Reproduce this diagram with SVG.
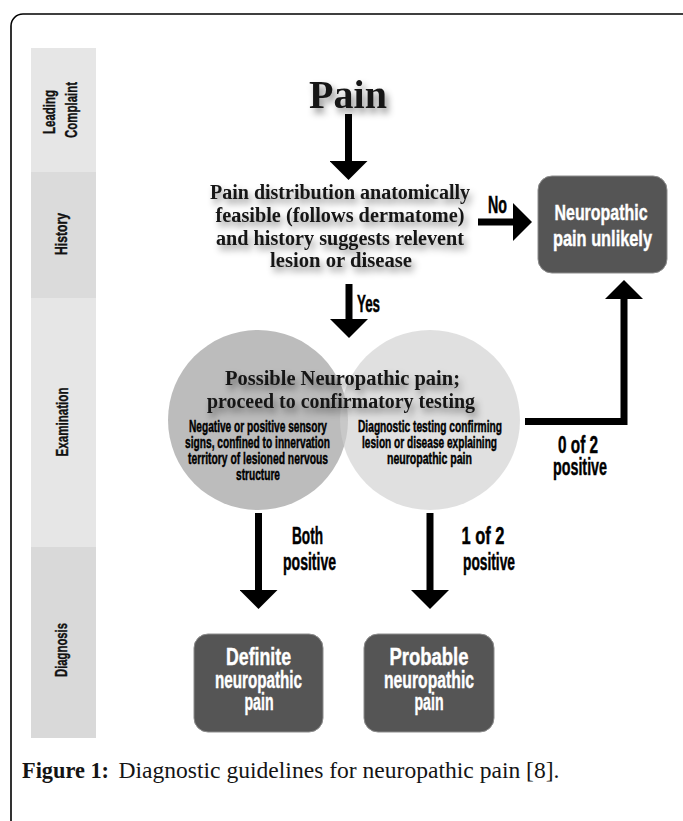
<svg xmlns="http://www.w3.org/2000/svg" width="683" height="821" viewBox="0 0 683 821">
<style>
.serif{font-family:"Liberation Serif","Times New Roman",serif;font-weight:bold;fill:#141414}
.cap{font-family:"Liberation Serif","Times New Roman",serif;fill:#141414}
.cond{font-family:"Liberation Sans Narrow","Liberation Sans",Arial,sans-serif;font-weight:bold;fill:#000;stroke:#000;stroke-width:0.45}
.wt{fill:#fff;stroke:#fff;stroke-width:0.4}
.box{fill:#555555;stroke:#8c8c8c;stroke-width:1}
.conn{stroke:#000;stroke-width:7;fill:none;marker-end:url(#ah)}
.side{font-family:"Liberation Sans Narrow","Liberation Sans",Arial,sans-serif;font-weight:bold;fill:#111;stroke:#111;stroke-width:0.4;font-size:17px}
</style>
<defs>
<marker id="ah" markerUnits="userSpaceOnUse" markerWidth="20" markerHeight="38" viewBox="0 0 20 38" refX="1" refY="19" orient="auto">
<path d="M0,0 L19,19 L0,38 Z" fill="#000"/>
</marker>
<filter id="sh" x="-20%" y="-40%" width="140%" height="190%">
<feDropShadow dx="3" dy="5" stdDeviation="3.5" flood-color="#000" flood-opacity="0.45"/>
</filter>
</defs>
<rect width="683" height="821" fill="#fff"/>
<path d="M11,821 V26 A12,12 0 0 1 23,14 H690" fill="none" stroke="#000" stroke-width="1.6"/>

<g id="sidebar">
<rect x="31" y="48" width="65" height="124" fill="#e6e6e6"/>
<rect x="31" y="172" width="65" height="126" fill="#dbdbdb"/>
<rect x="31" y="298" width="65" height="249" fill="#e6e6e6"/>
<rect x="31" y="547" width="65" height="191" fill="#d9d9d9"/>
<text class="side" x="55" y="112" text-anchor="middle" textLength="44" lengthAdjust="spacingAndGlyphs" transform="rotate(-90 55 112)">Leading</text>
<text class="side" x="77" y="110" text-anchor="middle" textLength="56" lengthAdjust="spacingAndGlyphs" transform="rotate(-90 77 110)">Complaint</text>
<text class="side" x="67" y="234" text-anchor="middle" textLength="42" lengthAdjust="spacingAndGlyphs" transform="rotate(-90 67 234)">History</text>
<text class="side" x="68" y="422" text-anchor="middle" textLength="69" lengthAdjust="spacingAndGlyphs" transform="rotate(-90 68 422)">Examination</text>
<text class="side" x="67" y="650" text-anchor="middle" textLength="54" lengthAdjust="spacingAndGlyphs" transform="rotate(-90 67 650)">Diagnosis</text>
</g>

<g id="pain">
<text class="serif" x="348" y="108" font-size="40" text-anchor="middle" filter="url(#sh)">Pain</text>
</g>

<g id="history-q">
<g filter="url(#sh)">
<text class="serif" font-size="20" text-anchor="middle" x="340" y="199" textLength="260" lengthAdjust="spacingAndGlyphs">Pain distribution anatomically</text>
<text class="serif" font-size="20" text-anchor="middle" x="340" y="222" textLength="249" lengthAdjust="spacingAndGlyphs">feasible (follows dermatome)</text>
<text class="serif" font-size="20" text-anchor="middle" x="340" y="245" textLength="248" lengthAdjust="spacingAndGlyphs">and history suggests relevent</text>
<text class="serif" font-size="20" text-anchor="middle" x="341" y="267" textLength="142" lengthAdjust="spacingAndGlyphs">lesion or disease</text>
</g>
</g>

<g id="unlikely">
<rect class="box" x="538" y="176" width="129" height="97" rx="14"/>
<text class="cond wt" font-size="22" text-anchor="middle" x="601" y="220" textLength="93" lengthAdjust="spacingAndGlyphs">Neuropathic</text>
<text class="cond wt" font-size="22" text-anchor="middle" x="602.5" y="246" textLength="99" lengthAdjust="spacingAndGlyphs">pain unlikely</text>
</g>

<g id="venn">
<circle cx="258" cy="420" r="90" fill="#bcbcbc"/>
<circle cx="430" cy="420" r="90" fill="#cfcfcf" fill-opacity="0.64"/>
<g filter="url(#sh)">
<text class="serif" font-size="20" text-anchor="middle" x="342.5" y="385" textLength="235" lengthAdjust="spacingAndGlyphs">Possible Neuropathic pain;</text>
<text class="serif" font-size="20" text-anchor="middle" x="341" y="408" textLength="268" lengthAdjust="spacingAndGlyphs">proceed to confirmatory testing</text>
</g>
<g id="exam-signs">
<text class="cond" font-size="16" text-anchor="middle" x="258" y="432" textLength="138" lengthAdjust="spacingAndGlyphs">Negative or positive sensory</text>
<text class="cond" font-size="16" text-anchor="middle" x="257.5" y="448" textLength="145" lengthAdjust="spacingAndGlyphs">signs, confined to innervation</text>
<text class="cond" font-size="16" text-anchor="middle" x="258" y="464" textLength="140" lengthAdjust="spacingAndGlyphs">territory of lesioned nervous</text>
<text class="cond" font-size="16" text-anchor="middle" x="258" y="480" textLength="44" lengthAdjust="spacingAndGlyphs">structure</text>
</g>
<g id="exam-testing">
<text class="cond" font-size="16" text-anchor="middle" x="430" y="432" textLength="144" lengthAdjust="spacingAndGlyphs">Diagnostic testing confirming</text>
<text class="cond" font-size="16" text-anchor="middle" x="429.5" y="448" textLength="135" lengthAdjust="spacingAndGlyphs">lesion or disease explaining</text>
<text class="cond" font-size="16" text-anchor="middle" x="429.5" y="464" textLength="85" lengthAdjust="spacingAndGlyphs">neuropathic pain</text>
</g>
</g>

<g id="definite">
<rect class="box" x="194" y="634" width="129" height="98" rx="14"/>
<text class="cond wt" font-size="23" text-anchor="middle" x="258.5" y="665" textLength="65" lengthAdjust="spacingAndGlyphs">Definite</text>
<text class="cond wt" font-size="23" text-anchor="middle" x="258.5" y="688" textLength="87" lengthAdjust="spacingAndGlyphs">neuropathic</text>
<text class="cond wt" font-size="23" text-anchor="middle" x="259" y="710" textLength="29" lengthAdjust="spacingAndGlyphs">pain</text>
</g>

<g id="probable">
<rect class="box" x="364" y="634" width="130" height="98" rx="14"/>
<text class="cond wt" font-size="23" text-anchor="middle" x="429" y="665" textLength="79" lengthAdjust="spacingAndGlyphs">Probable</text>
<text class="cond wt" font-size="23" text-anchor="middle" x="429" y="688" textLength="90" lengthAdjust="spacingAndGlyphs">neuropathic</text>
<text class="cond wt" font-size="23" text-anchor="middle" x="429" y="710" textLength="29" lengthAdjust="spacingAndGlyphs">pain</text>
</g>

<g id="connectors">
<line class="conn" x1="348.5" y1="114" x2="348.5" y2="162"/>
<line class="conn" x1="349" y1="284" x2="349" y2="320"/>
<line class="conn" x1="478" y1="222" x2="514" y2="222"/>
<line class="conn" x1="258.5" y1="513" x2="258.5" y2="591"/>
<line class="conn" x1="430" y1="513" x2="430" y2="591"/>
<polyline class="conn" points="525,421.5 624,421.5 624,298" stroke-linejoin="miter"/>
<text class="cond" font-size="23" x="488" y="213" textLength="19" lengthAdjust="spacingAndGlyphs">No</text>
<text class="cond" font-size="23" x="357" y="312" textLength="23" lengthAdjust="spacingAndGlyphs">Yes</text>
<text class="cond" font-size="23" text-anchor="middle" x="307.5" y="544" textLength="31" lengthAdjust="spacingAndGlyphs">Both</text>
<text class="cond" font-size="23" text-anchor="middle" x="309.5" y="570" textLength="53" lengthAdjust="spacingAndGlyphs">positive</text>
<text class="cond" font-size="23" text-anchor="middle" x="483" y="544" textLength="43" lengthAdjust="spacingAndGlyphs">1 of 2</text>
<text class="cond" font-size="23" text-anchor="middle" x="489" y="570" textLength="52" lengthAdjust="spacingAndGlyphs">positive</text>
<text class="cond" font-size="23" text-anchor="middle" x="578" y="453" textLength="40" lengthAdjust="spacingAndGlyphs">0 of 2</text>
<text class="cond" font-size="23" text-anchor="middle" x="580" y="475" textLength="54" lengthAdjust="spacingAndGlyphs">positive</text>
</g>

<g id="caption">
<text class="cap" font-weight="bold" font-size="23" x="22" y="778" textLength="87" lengthAdjust="spacingAndGlyphs">Figure 1:</text>
<text class="cap" font-size="23" x="118.5" y="778" textLength="441" lengthAdjust="spacingAndGlyphs">Diagnostic guidelines for neuropathic pain [8].</text>
</g>
</svg>
